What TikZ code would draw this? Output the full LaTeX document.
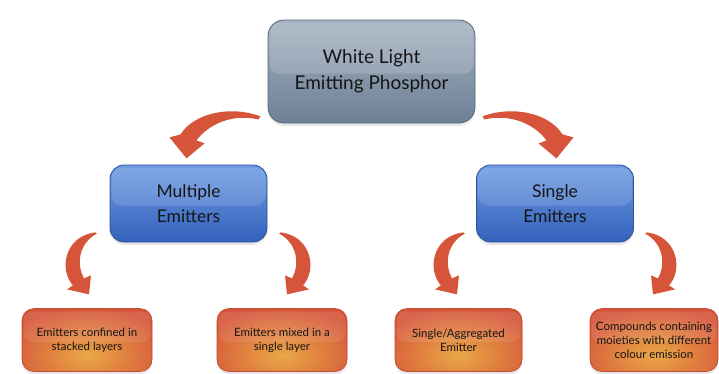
\documentclass[tikz,border=0pt]{standalone}
\usepackage{fontspec}
\setmainfont{Lato}
\usetikzlibrary{shadows,calc}
\definecolor{arrowred}{HTML}{D6553A}
\definecolor{greytop}{HTML}{A4B1C0}
\definecolor{greybot}{HTML}{6E8096}
\definecolor{greyedge}{HTML}{56677A}
\definecolor{bluetop}{HTML}{6F9CE2}
\definecolor{bluebot}{HTML}{3462BC}
\definecolor{blueedge}{HTML}{2C4F96}
\definecolor{boxorange}{HTML}{D5533A}
\definecolor{boxyellow}{HTML}{EAA845}
\definecolor{orangeedge}{HTML}{C24A30}
\definecolor{textdark}{HTML}{151515}
\tikzset{
  shadowed/.style={drop shadow={opacity=0.18,shadow xshift=0pt,shadow yshift=-3pt}},
  gloss/.style={path picture={
    \fill[white,opacity=#1,rounded corners=10pt]
      ($(path picture bounding box.north west)+(1.5,3)$) rectangle
      ($(path picture bounding box.east)+(-1.5,2)$);}},
  topbox/.style={shadowed,draw=greyedge,line width=0.8pt,rounded corners=16pt,
    top color=greytop,bottom color=greybot,minimum width=207pt,minimum height=103pt,
    align=center,text=textdark,font=\fontsize{19}{26}\selectfont,gloss=0.15},
  midbox/.style={shadowed,draw=blueedge,line width=0.8pt,rounded corners=14pt,
    top color=bluetop,bottom color=bluebot,minimum width=157pt,minimum height=77pt,
    align=center,text=textdark,font=\fontsize{17.5}{25}\selectfont,gloss=0.13},
  lowbox/.style={shadowed,draw=orangeedge,line width=0.6pt,rounded corners=12pt,
    fill=boxorange,minimum height=63pt,inner sep=2pt,
    align=center,text=textdark,font=\fontsize{11.5}{14}\selectfont,
    path picture={
      \shade[inner color=boxyellow,outer color=boxorange]
        ($(path picture bounding box.south)+(0,-16)$) ellipse [x radius=85pt,y radius=48pt];
      \fill[white,opacity=0.10,rounded corners=9pt]
        ($(path picture bounding box.north west)+(1.5,3)$) rectangle
        ($(path picture bounding box.east)+(-1.5,2)$);}},
  bigarrow/.style={fill=arrowred}
}
\newcommand{\toparrowshape}{%
  \fill[bigarrow] (-74,-42) .. controls (-45,-53) and (-8,-46) .. (6,-24)
    -- (17,-21) -- (0,0) -- (-18,-15) -- (-10,-18)
    .. controls (-22,-34) and (-45,-45) .. (-72,-39) -- cycle;}
\newcommand{\lowarrowshape}{%
  \fill[bigarrow] (6,-62) .. controls (-25,-58) and (-30,-24) .. (-16,-9)
    -- (-22,-5) -- (0,0) -- (2,-19) -- (-5,-16)
    .. controls (-12,-28) and (-12,-50) .. (8,-61) -- cycle;}
\begin{document}
\begin{tikzpicture}[x=1pt,y=-1pt]
\useasboundingbox (0,0) rectangle (719,373);
\fill[white] (0,0) rectangle (719,373);
\node[topbox] (top) at (371.5,71.5) {White Light\\Emitting Phosphor};
\node[midbox] (mult) at (188.5,203.5) {Multiple\\Emitters};
\node[midbox] (sing) at (555,203.5) {Single\\Emitters};
\node[lowbox,minimum width=130pt] (b1) at (87,340) {Emitters confined in\\stacked layers};
\node[lowbox,minimum width=130pt] (b2) at (282,340) {Emitters mixed in a\\single layer};
\node[lowbox,minimum width=127pt] (b3) at (458.5,340) {Single/Aggregated\\Emitter};
\node[lowbox,minimum width=128pt] (b4) at (654,340) {Compounds containing\\moieties with different\\colour emission};
% arrows from the top box
\begin{scope}[shift={($(top.south)+(-185,35)$)},xscale=-1]\toparrowshape\end{scope}
\begin{scope}[shift={($(top.south)+(185,35)$)}]\toparrowshape\end{scope}
% arrows from Multiple Emitters
\begin{scope}[shift={($(mult.south)+(-99.5,52)$)}]\lowarrowshape\end{scope}
\begin{scope}[shift={($(mult.south)+(98.5,52)$)},xscale=-1]\lowarrowshape\end{scope}
% arrows from Single Emitters
\begin{scope}[shift={($(sing.south)+(-98,52)$)}]\lowarrowshape\end{scope}
\begin{scope}[shift={($(sing.south)+(98,52)$)},xscale=-1]\lowarrowshape\end{scope}
\end{tikzpicture}
\end{document}
